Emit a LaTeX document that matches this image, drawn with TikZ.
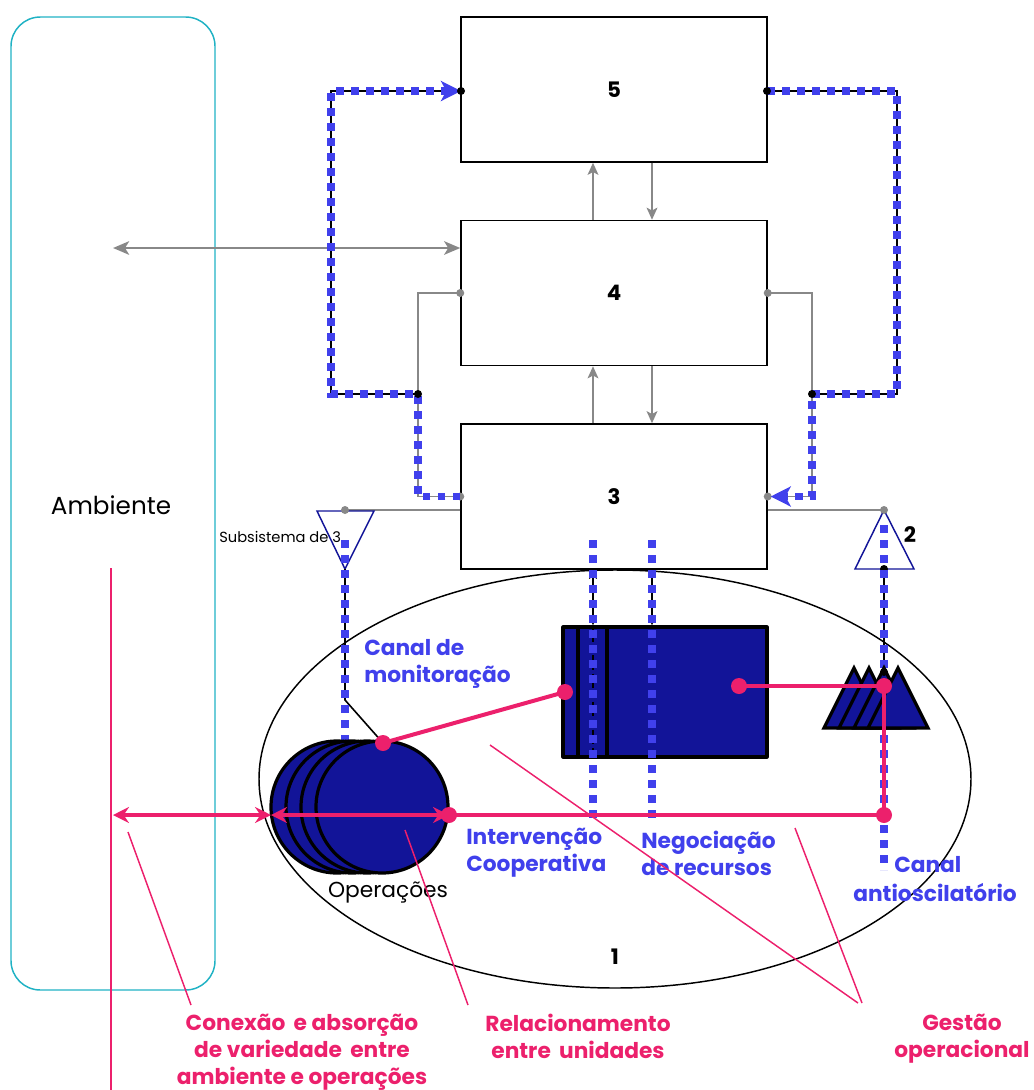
\documentclass[tikz,border=0pt]{standalone}
\usepackage{fontspec}
\setmainfont{Poppins}
\usetikzlibrary{arrows.meta,shapes.geometric,calc}
\definecolor{pinkc}{RGB}{236,32,108}
\definecolor{bluedot}{RGB}{64,64,236}
\definecolor{navy}{RGB}{18,20,152}
\definecolor{tealc}{RGB}{32,178,196}
\definecolor{grayc}{RGB}{136,136,136}
\begin{document}
\begin{tikzpicture}[x=0.75pt,y=-0.75pt,
  sysbox/.style={draw=black,fill=white,line width=1.1pt,minimum width=229.5pt,minimum height=108.75pt,inner sep=0pt,font=\fontsize{16}{18}\selectfont\bfseries},
  grayarr/.style={draw=grayc,line width=1.5pt,-{Stealth[length=9pt,width=8pt,inset=2pt]}},
  grayln/.style={draw=grayc,line width=1.1pt},
  blackln/.style={draw=black,line width=1.2pt},
  bluedots/.style={draw=bluedot,line width=5.8pt,dash pattern=on 5.8pt off 5.45pt},
  bluetip/.style={-{Stealth[length=15pt,width=15pt,inset=4pt,fill=bluedot]}},
  navyshape/.style={draw=black,fill=navy,line width=2.4pt,line join=round},
  pinkln/.style={draw=pinkc,line width=3pt},
  pinkarr/.style={draw=pinkc,line width=3pt,{Stealth[length=12pt,width=12pt,inset=4pt]}-{Stealth[length=12pt,width=12pt,inset=4pt]}},
  pinkthin/.style={draw=pinkc,line width=1.1pt},
  bluetxt/.style={text=bluedot,font=\fontsize{16.3}{20.25}\selectfont\bfseries,align=left,inner sep=0pt,anchor=west},
  pinktxt/.style={text=pinkc,font=\fontsize{16.3}{20.25}\selectfont\bfseries,align=center,inner sep=0pt},
  numtxt/.style={font=\fontsize{16}{18}\selectfont\bfseries,inner sep=0pt},
]
\useasboundingbox (0,0) rectangle (1033,1090);

% environment
\node[draw=tealc,line width=1.1pt,rounded corners=22pt,minimum width=153pt,minimum height=729.75pt] (amb) at (113,503.5) {};
\node[font=\fontsize{18.5}{22}\selectfont] (ambt) at (111,505) {Ambiente};

% system 1 ellipse
\node[draw=black,line width=1.1pt,ellipse,minimum width=534pt,minimum height=313.5pt,inner sep=0pt] (sys1) at (615,779) {};

% boxes
\node[sysbox] (b5) at (614,89.5) {5};
\node[sysbox] (b4) at (614,293) {4};
\node[sysbox] (b3) at (614,496.5) {3};

% gray arrows between boxes
\draw[grayarr] ($(b4.north)+(-21,0)$) -- ($(b5.south)+(-21,0)$);
\draw[grayarr] ($(b5.south)+(38,0)$) -- ($(b4.north)+(38,0)$);
\draw[grayarr] ($(b3.north)+(-21,0)$) -- ($(b4.south)+(-21,0)$);
\draw[grayarr] ($(b4.south)+(38,0)$) -- ($(b3.north)+(38,0)$);

% environment arrow
\coordinate (envL) at (113,248);
\draw[draw=grayc,line width=2.2pt,{Stealth[length=12pt,width=10pt,inset=3pt]}-{Stealth[length=12pt,width=10pt,inset=3pt]}] (envL) -- (b4.west |- envL);

% gray side connectors 4-3
\coordinate (gl) at (418,293);
\coordinate (gr) at (812,293);
\draw[grayln] (b4.west) -- (gl) -- (gl |- b3.west) -- (b3.west);
\draw[grayln] (b4.east) -- (gr) -- (gr |- b3.east) -- (b3.east);
\foreach \p in {b4.west,b3.west,b4.east,b3.east} \fill[grayc] (\p) circle[radius=3pt];

% gray lines to subsystem triangles
\coordinate (s3) at (345,510);
\coordinate (s2) at (884,510);
\draw[grayln] (b3.west |- s3) -- (s3);
\draw[grayln] (b3.east |- s2) -- (s2);

% triangles
\draw[draw=navy,fill=white,line width=1.1pt] (317,511) -- (374,511) -- (345,569) -- cycle;
\draw[draw=navy,fill=white,line width=1.1pt] (s2) -- (914,569) -- (855,569) -- cycle;
\fill[grayc] (s3) circle[radius=3pt];
\fill[grayc] (s2) circle[radius=3pt];

% black loops with blue dotted overlay
\coordinate (lc1) at (331,91);
\coordinate (lc2) at (331,394);
\coordinate (lc3) at (418,394);
\coordinate (rc1) at (897,91);
\coordinate (rc2) at (897,394);
\coordinate (rc3) at (812,394);
\coordinate (b5w) at (461,91);
\coordinate (b5e) at (767,91);
\draw[blackln] (b5w) -- (lc1) -- (lc2) -- (lc3);
\draw[blackln] (b5e) -- (rc1) -- (rc2) -- (rc3);
\draw[bluedots,bluetip] (b3.west) -- (lc3 |- b3.west) -- (lc3) -- (lc2) -- (lc1) -- (b5w);
\draw[bluedots,bluetip] (b5e) -- (rc1) -- (rc2) -- (rc3) -- (rc3 |- b3.east) -- ($(b3.east)+(3,0)$);
\foreach \p in {b5w,b5e,lc3,rc3} \fill[black] (\p) circle[radius=3pt];

% channel verticals (monitor & antioscillatory)
\coordinate (t3) at (345,569);
\coordinate (t3b) at (345,700);
\coordinate (t2) at (884,569);
\coordinate (m2) at (884,672);
\draw[blackln] (t3) -- (t3b) -- (383,743);
\draw[blackln] (t2) -- (m2);
\fill (t2) circle[radius=3pt];
\draw[bluedots] (345,540) -- (345,745);
\draw[bluedots] (884,525) -- (884,870);

% operations circles
\foreach \i/\cx in {1/337,2/352,3/367,4/382}
  \node[navyshape,circle,minimum size=99pt,inner sep=0pt] (ops\i) at (\cx,807) {};

% mountains (system 2 regulatory center)
\foreach \ax in {854,869,884,898}
  \draw[navyshape,line join=miter] (\ax,668) -- ({\ax+30},728) -- ({\ax-30},728) -- cycle;
\fill (m2) circle[radius=3pt];

% units block
\node[navyshape,rectangle,minimum width=153pt,minimum height=97.5pt,inner sep=0pt] (units) at (665,692) {};
\draw[line width=2.4pt] (578,627) -- (578,757);
\draw[line width=2.4pt] (607,627) -- (607,757);
\draw[line width=1.5pt,dash pattern=on 4pt off 3pt] (593,627) -- (593,757);

% black arrows from 3 to units
\draw[line width=1.1pt,{Stealth[length=7pt,width=6pt,inset=2pt]}-{Stealth[length=7pt,width=6pt,inset=2pt]}] ($(b3.south)+(-21,0)$) -- ($(units.north)+(-72,0)$);
\draw[line width=1.1pt,-{Stealth[length=7pt,width=6pt,inset=2pt]}] ($(b3.south)+(38,0)$) -- ($(units.north)+(-13,0)$);
\draw[bluedots] (593,540) -- (593,820);
\draw[bluedots] (652,540) -- (652,820);

% pink relations
\coordinate (pA) at (383,743);
\coordinate (pB) at (565,692);
\coordinate (pC) at (739,686);
\coordinate (pD) at (884,686);
\coordinate (pE) at (884,815);
\coordinate (pF) at (449,815);
\coordinate (pG) at (271,815);
\coordinate (pH) at (113,815);
\draw[pinkln] (pA) -- (pB);
\draw[pinkln] (pC) -- (pD) -- (pE) -- (pF);
\draw[pinkarr] (pG) -- (pF);
\draw[pinkarr] (pH) -- (pG);
\foreach \p in {pA,pB,pC,pD,pE,pF} \fill[pinkc] (\p) circle[radius=6pt];
\coordinate (envtop) at (111,568);
\coordinate (envbot) at (111,1090);
\draw[draw=pinkc,line width=2.2pt] (envtop) -- (envbot);

% labels
\node[font=\fontsize{11}{13}\selectfont,anchor=west,inner sep=0pt] (sub3) at (219,537) {Subsistema de 3};
\node[numtxt] (n2) at (910,535) {2};
\node[numtxt] (n1) at (615,957) {1};
\node[font=\fontsize{16.3}{18}\selectfont,inner sep=0pt] (opst) at (388,893) {Operações};
\node[bluetxt] (canalm) at (364,664) {Canal de\\monitoração};
\node[bluetxt] (interv) at (466,853) {Intervenção\\Cooperativa};
\node[bluetxt] (negoc) at (641,853) {Negociação\\de recursos};
\node[bluetxt] (canala1) at (894,865) {Canal};
\node[bluetxt] (canala2) at (853,893) {antioscilatório};

\node[pinktxt,anchor=north] (conex) at (302,1014) {Conexão \,e absorção\\de variedade \,entre\\ambiente e operações};
\node[pinktxt,anchor=north] (relac) at (578,1014) {Relacionamento\\entre \,unidades};
\node[pinktxt,anchor=north] (gest) at (962,1014) {Gestão\\operacional};

% leader lines
\coordinate (lA1) at (128,832);
\coordinate (lA2) at (191,1005);
\coordinate (lB1) at (405,830);
\coordinate (lB2) at (468,1005);
\coordinate (lC1) at (490,745);
\coordinate (lC2) at (858,1003);
\coordinate (lD1) at (795,828);
\coordinate (lD2) at (862,1003);
\draw[pinkthin] (lA1) -- (lA2);
\draw[pinkthin] (lB1) -- (lB2);
\draw[pinkthin] (lC1) -- (lC2);
\draw[pinkthin] (lD1) -- (lD2);
\end{tikzpicture}
\end{document}
